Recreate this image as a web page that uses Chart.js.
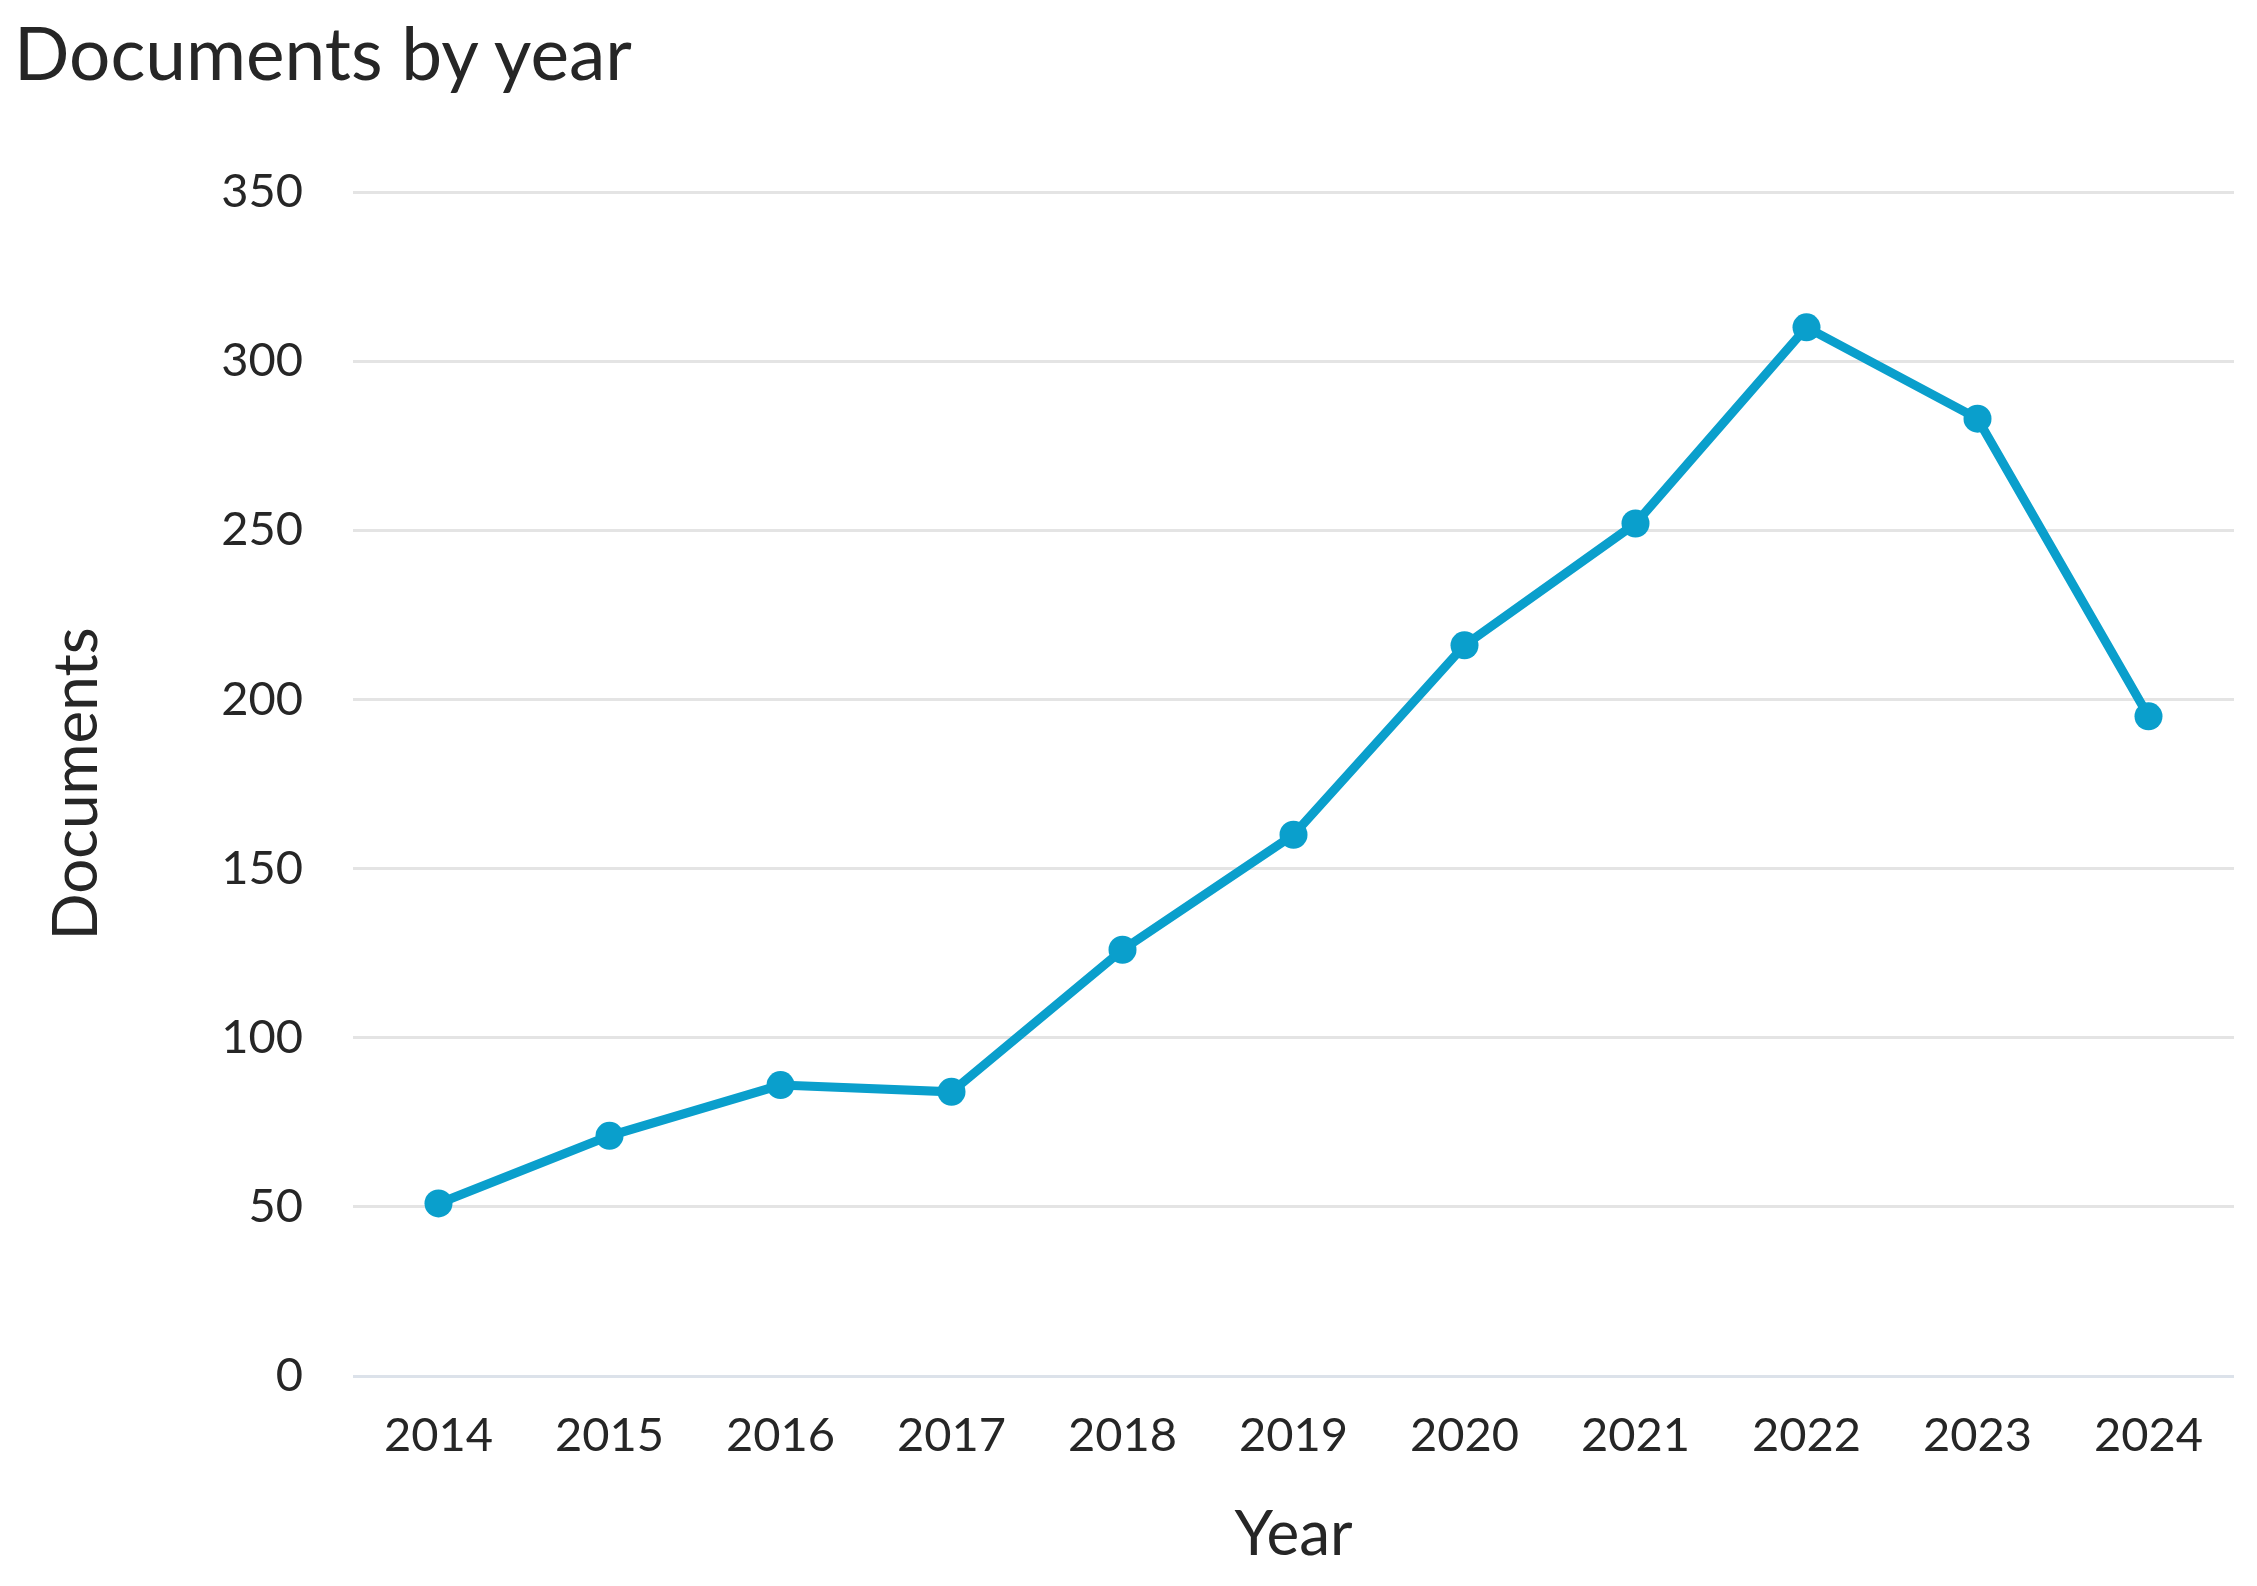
<!DOCTYPE html>
<html>
<head>
<meta charset="utf-8">
<script src="https://cdn.jsdelivr.net/npm/chart.js@4"></script>
<style>
  html, body { margin: 0; padding: 0; background: #fff; }
  #wrap { position: relative; width: 2257px; height: 1586px; }
  #title {
    position: absolute; left: 14px; top: 8px;
    font-family: Lato, sans-serif; font-size: 73px; color: #262626;
  }
  canvas { position: absolute; left: 0; top: 0; }
</style>
</head>
<body>
<div id="wrap">
  <div id="title">Documents by year</div>
  <canvas id="chart" width="2257" height="1586"></canvas>
</div>
<script>
// years on the x axis
const years = ["2014", "2015", "2016", "2017", "2018", "2019", "2020", "2021", "2022", "2023", "2024"];
// documents per year
const documents = [51, 71, 86, 84, 126, 160, 216, 252, 310, 283, 195];
// y axis range
const yTicks = [0, 50, 100, 150, 200, 250, 300, 350];

const lineColor = "#0a9fcc";
const textColor = "#262626";

const chart = new Chart(document.getElementById("chart"), {
  type: "line",
  data: {
    labels: years,
    datasets: [{
      data: documents,
      borderColor: lineColor,
      backgroundColor: lineColor,
      borderWidth: 9,
      pointRadius: 14,
      pointBorderWidth: 0,
      tension: 0,
    }],
  },
  options: {
    responsive: false,
    animation: false,
    layout: { padding: { top: 192, left: 20, right: 23, bottom: 14 } },
    plugins: { legend: { display: false }, tooltip: { enabled: false } },
    scales: {
      x: {
        offset: true,
        grid: { display: false, drawTicks: false },
        border: { display: false },
        ticks: { color: textColor, font: { family: "Lato", size: 47 }, padding: 32, maxRotation: 0 },
        title: { display: true, text: "Year", color: textColor, font: { family: "Lato", size: 62 }, padding: { top: 0, bottom: 0 } },
        afterFit(scale) { scale.height = 196; },
      },
      y: {
        min: yTicks[0],
        max: yTicks[yTicks.length - 1],
        ticks: { stepSize: 50, color: textColor, font: { family: "Lato", size: 47 }, padding: 50 },
        grid: {
          drawTicks: false,
          lineWidth: 3,
          color: (ctx) => (ctx.tick && ctx.tick.value === 0 ? "#dce2ea" : "#e4e4e4"),
        },
        border: { display: false },
        title: { display: true, text: "Documents", color: textColor, font: { family: "Lato", size: 62 }, padding: { top: 20, bottom: 0 } },
        afterFit(scale) { scale.width = 333; },
      },
    },
  },
});
</script>
</body>
</html>
